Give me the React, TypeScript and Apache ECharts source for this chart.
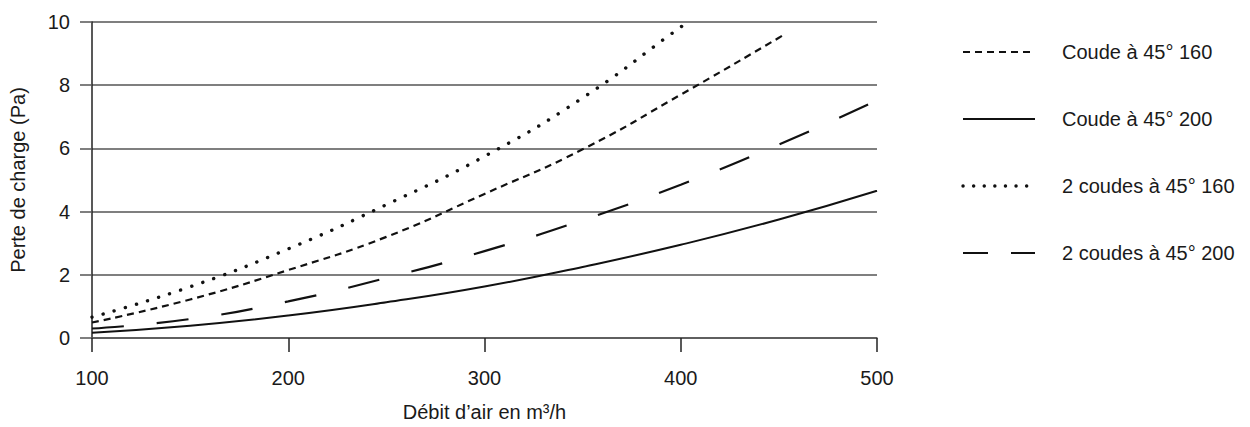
import React, { useEffect, useRef } from "react";
import * as echarts from "echarts";

const flowTicks = [100, 200, 300, 400, 500];
const coude160X = [100, 150, 200, 250, 300, 350, 400, 450, 453];
const coude160Y = [0.49, 1.22, 2.15, 3.2, 4.56, 5.97, 7.7, 9.5, 9.62];
const coude200X = [100, 150, 200, 250, 300, 350, 400, 450, 500];
const coude200Y = [0.17, 0.39, 0.71, 1.13, 1.63, 2.25, 2.95, 3.75, 4.66];
const deux160X = [100, 150, 200, 250, 300, 350, 400, 404];
const deux160Y = [0.66, 1.62, 2.82, 4.22, 5.75, 7.6, 9.84, 10];
const deux200X = [100, 150, 200, 250, 300, 350, 400, 450, 500];
const deux200Y = [0.3, 0.6, 1.16, 1.9, 2.75, 3.73, 4.85, 6.12, 7.52];

const seriesNames = [
  "Coude à 45° 160",
  "Coude à 45° 200",
  "2 coudes à 45° 160",
  "2 coudes à 45° 200",
];

const FONT = "'Liberation Sans', Arial, Helvetica, sans-serif";
const GRID_COLOR = "#555555";
const TEXT_COLOR = "#1a1a1a";
const FS = 20;

const zip = (xs: number[], ys: number[]) => xs.map((x, i) => [x, ys[i]]);

export default function App() {
  const ref = useRef<HTMLDivElement>(null);
  useEffect(() => {
    if (!ref.current) return;
    const chart = echarts.init(ref.current, undefined, { renderer: "svg" });
    const styles: any[] = [
      { type: [7, 5], width: 2.2, cap: "butt" },
      { type: "solid", width: 2 },
      { type: [0.1, 11.5], width: 3.4, cap: "round" },
      { type: [32, 33], width: 2.2, cap: "butt" },
    ];
    const legendStyles: any[] = [[7, 5], null, [0.1, 10.5], [25, 23]];
    const data = [
      zip(coude160X, coude160Y),
      zip(coude200X, coude200Y),
      zip(deux160X, deux160Y),
      zip(deux200X, deux200Y),
    ];
    const rowsY = [52, 119, 186, 253];
    const graphics: any[] = [];
    seriesNames.forEach((name, i) => {
      graphics.push({
        type: "line",
        shape: { x1: 963, y1: rowsY[i], x2: 1035, y2: rowsY[i] },
        style: {
          stroke: "#111",
          lineWidth: styles[i].width,
          lineDash: legendStyles[i] || undefined,
          lineCap: styles[i].cap || "butt",
        },
      });
      graphics.push({
        type: "text",
        x: 1062,
        y: rowsY[i],
        style: {
          text: name,
          fill: TEXT_COLOR,
          font: `${FS}px ${FONT}`,
          verticalAlign: "middle",
          align: "left",
        },
      });
    });

    chart.setOption({
      animation: false,
      backgroundColor: "#ffffff",
      textStyle: { fontFamily: FONT },
      grid: { left: 89, right: 373, top: 22, bottom: 84, containLabel: false },
      xAxis: {
        type: "value",
        min: flowTicks[0],
        max: flowTicks[flowTicks.length - 1],
        interval: 100,
        name: "Débit d’air en m³/h",
        nameLocation: "middle",
        nameGap: 64,
        nameTextStyle: { fontSize: FS, color: TEXT_COLOR, fontFamily: FONT },
        axisLine: { show: true, lineStyle: { color: GRID_COLOR, width: 1.5 } },
        axisTick: { show: true, length: 14, lineStyle: { color: "#222", width: 1.5 } },
        axisLabel: { fontSize: FS, color: TEXT_COLOR, margin: 30, fontFamily: FONT },
        splitLine: { show: false },
      },
      yAxis: {
        type: "value",
        min: 0,
        max: 10,
        interval: 2,
        name: "Perte de charge (Pa)",
        nameLocation: "middle",
        nameGap: 64,
        nameRotate: 90,
        nameTextStyle: { fontSize: FS, color: TEXT_COLOR, fontFamily: FONT },
        axisLine: { show: true, lineStyle: { color: "#222", width: 1.5 } },
        axisTick: { show: true, length: 12, lineStyle: { color: GRID_COLOR, width: 1.5 } },
        axisLabel: { fontSize: FS, color: TEXT_COLOR, margin: 22, fontFamily: FONT },
        splitLine: { show: true, lineStyle: { color: GRID_COLOR, width: 1.5 } },
      },
      series: seriesNames.map((name, i) => ({
        name,
        type: "line",
        smooth: true,
        symbol: "none",
        data: data[i],
        lineStyle: { color: "#111", ...styles[i] },
        z: 3,
      })),
      graphic: graphics,
    });
    return () => chart.dispose();
  }, []);
  return (
    <div
      ref={ref}
      style={{ position: "fixed", left: 0, top: 0, width: 1250, height: 427 }}
    />
  );
}
